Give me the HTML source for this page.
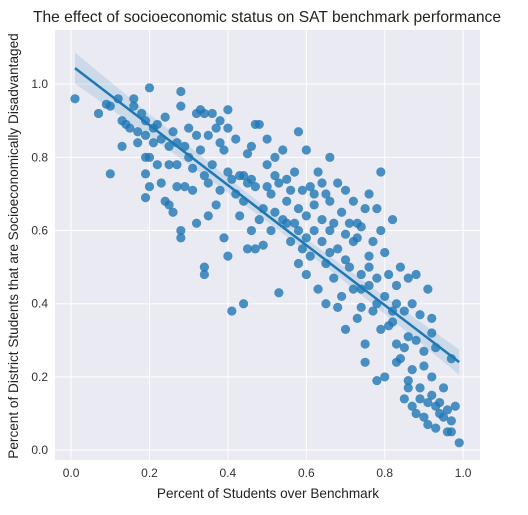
<!DOCTYPE html>
<html><head><meta charset="utf-8"><style>
body{margin:0;background:#fff;font-family:"Liberation Sans",sans-serif}
svg text{font-family:"Liberation Sans",sans-serif}
</style></head><body>
<svg id="chart" width="528" height="510" xmlns="http://www.w3.org/2000/svg">
<text x="267" y="22" text-anchor="middle" font-size="15.6" fill="#222">The effect of socioeconomic status on SAT benchmark performance</text>
<rect x="55" y="30" width="425" height="430" fill="#eaeaf2"/>
<g id="grid"></g>
<g id="ticks"></g>
<g id="band"></g>
<g id="pts"></g>
<g id="fit"></g>
<text x="268" y="498" text-anchor="middle" font-size="13.6" fill="#222">Percent of Students over Benchmark</text>
<text transform="translate(18,246) rotate(-90)" text-anchor="middle" font-size="13.6" fill="#222">Percent of District Students that are Socioeconomically Disadvantaged</text>
</svg>
<script>
const xTicks=[0,0.2,0.4,0.6,0.8,1.0];
const xTickLabels=["0.0","0.2","0.4","0.6","0.8","1.0"];
const yTicks=[0,0.2,0.4,0.6,0.8,1.0];
const yTickLabels=["0.0","0.2","0.4","0.6","0.8","1.0"];
const benchmarkPct=[0.01,0.07,0.09,0.10,0.12,0.16,0.20,0.28,0.28,0.10,0.13,0.13,0.14,0.15,0.16,0.17,0.17,0.18,0.19,0.19,0.19,0.19,0.19,0.20,0.20,0.21,0.21,0.22,0.22,0.23,0.23,0.24,0.24,0.25,0.25,0.25,0.26,0.26,0.27,0.27,0.27,0.28,0.28,0.29,0.29,0.30,0.30,0.31,0.31,0.32,0.32,0.32,0.33,0.33,0.34,0.34,0.34,0.34,0.35,0.35,0.35,0.36,0.36,0.37,0.37,0.38,0.38,0.38,0.39,0.39,0.40,0.40,0.40,0.41,0.41,0.42,0.42,0.43,0.43,0.44,0.44,0.44,0.45,0.45,0.46,0.46,0.47,0.47,0.47,0.48,0.48,0.49,0.49,0.50,0.50,0.50,0.51,0.51,0.52,0.52,0.53,0.53,0.54,0.54,0.55,0.55,0.56,0.56,0.57,0.57,0.58,0.58,0.58,0.59,0.59,0.60,0.60,0.60,0.60,0.61,0.61,0.62,0.62,0.63,0.63,0.64,0.64,0.65,0.65,0.65,0.66,0.66,0.66,0.67,0.67,0.68,0.68,0.69,0.69,0.70,0.70,0.70,0.71,0.71,0.72,0.72,0.72,0.73,0.73,0.74,0.74,0.74,0.75,0.75,0.75,0.76,0.76,0.76,0.77,0.77,0.78,0.78,0.78,0.79,0.79,0.80,0.80,0.80,0.81,0.81,0.82,0.82,0.83,0.83,0.84,0.84,0.85,0.85,0.85,0.86,0.86,0.87,0.87,0.87,0.88,0.88,0.89,0.89,0.90,0.90,0.90,0.91,0.91,0.92,0.92,0.93,0.93,0.93,0.94,0.95,0.96,0.97,0.97,0.98,0.99,0.40,0.45,0.55,0.62,0.68,0.64,0.73,0.78,0.74,0.82,0.79,0.83,0.86,0.88,0.91,0.92,0.95,0.46,0.52,0.58,0.66,0.70,0.76,0.83,0.94,0.96,0.97,0.92,0.89,0.86];
const disadvPct=[0.96,0.92,0.945,0.94,0.96,0.96,0.99,0.98,0.94,0.755,0.83,0.90,0.89,0.88,0.94,0.84,0.87,0.92,0.90,0.86,0.80,0.755,0.69,0.72,0.80,0.88,0.84,0.89,0.78,0.85,0.73,0.68,0.91,0.67,0.78,0.83,0.87,0.65,0.84,0.78,0.72,0.60,0.58,0.72,0.83,0.80,0.88,0.71,0.77,0.62,0.86,0.92,0.93,0.82,0.75,0.92,0.50,0.48,0.64,0.73,0.86,0.92,0.78,0.67,0.88,0.90,0.84,0.71,0.82,0.58,0.76,0.93,0.88,0.74,0.38,0.70,0.85,0.75,0.64,0.40,0.75,0.68,0.73,0.81,0.83,0.74,0.89,0.55,0.72,0.63,0.89,0.56,0.66,0.78,0.85,0.72,0.60,0.70,0.75,0.80,0.73,0.43,0.82,0.63,0.68,0.74,0.57,0.71,0.76,0.62,0.87,0.60,0.66,0.55,0.71,0.64,0.58,0.48,0.82,0.72,0.53,0.60,0.67,0.76,0.44,0.57,0.63,0.70,0.40,0.51,0.60,0.80,0.68,0.62,0.47,0.55,0.39,0.42,0.65,0.59,0.71,0.33,0.50,0.62,0.44,0.57,0.68,0.58,0.36,0.48,0.39,0.61,0.66,0.29,0.24,0.45,0.70,0.53,0.38,0.57,0.19,0.47,0.40,0.33,0.60,0.20,0.42,0.54,0.48,0.34,0.63,0.38,0.29,0.45,0.25,0.50,0.14,0.28,0.38,0.31,0.47,0.12,0.22,0.40,0.30,0.48,0.17,0.37,0.09,0.23,0.27,0.13,0.44,0.20,0.36,0.06,0.12,0.28,0.13,0.09,0.05,0.25,0.05,0.12,0.02,0.53,0.55,0.62,0.70,0.73,0.73,0.62,0.66,0.44,0.35,0.76,0.24,0.19,0.10,0.07,0.32,0.17,0.60,0.65,0.51,0.54,0.52,0.50,0.40,0.10,0.11,0.08,0.15,0.14,0.17];

const X0=55,X1=480,Y0=30,Y1=460;
const xmin=-0.041,xmax=1.043,ymin=-0.027,ymax=1.148;
const xs=v=>X0+(v-xmin)/(xmax-xmin)*(X1-X0);
const ys=v=>Y1-(v-ymin)/(ymax-ymin)*(Y1-Y0);
const NS="http://www.w3.org/2000/svg";
function mk(tag,attrs,parent){const e=document.createElementNS(NS,tag);for(const k in attrs)e.setAttribute(k,attrs[k]);document.getElementById(parent).appendChild(e);return e;}
xTicks.forEach((t,i)=>{
  const l=mk('line',{x1:xs(t),x2:xs(t),y1:Y0,y2:Y1,stroke:'#fff','stroke-width':1},'grid');
  
  
  const tx=mk('text',{x:xs(t),y:Y1+17,'text-anchor':'middle','font-size':12,fill:'#333'},'ticks');
  tx.textContent=xTickLabels[i];
  
  
});
yTicks.forEach((t,i)=>{
  const l=mk('line',{x1:X0,x2:X1,y1:ys(t),y2:ys(t),stroke:'#fff','stroke-width':1},'grid');
  
  
  const tx=mk('text',{x:X0-7,y:ys(t)+4,'text-anchor':'end','font-size':12,fill:'#333'},'ticks');
  tx.textContent=yTickLabels[i];
  
  
});
benchmarkPct.forEach((x,i)=>{
  const c=mk('circle',{cx:xs(x),cy:ys(disadvPct[i]),r:4.6,fill:'#1f77b4','fill-opacity':0.8},'pts');
  
  
});
const n=benchmarkPct.length;
let mx=0,my=0;for(let i=0;i<n;i++){mx+=benchmarkPct[i];my+=disadvPct[i];}mx/=n;my/=n;
let sxx=0,sxy=0;for(let i=0;i<n;i++){sxx+=(benchmarkPct[i]-mx)**2;sxy+=(benchmarkPct[i]-mx)*(disadvPct[i]-my);}
const b=sxy/sxx,a=my-b*mx;
let sse=0;for(let i=0;i<n;i++){sse+=(disadvPct[i]-a-b*benchmarkPct[i])**2;}
const s=Math.sqrt(sse/(n-2));
const lo=Math.min(...benchmarkPct),hi=Math.max(...benchmarkPct);
const up=[],dn=[];
for(let k=0;k<=40;k++){const x=lo+(hi-lo)*k/40;const se=1.97*s*Math.sqrt(1/n+(x-mx)**2/sxx);const y=a+b*x;up.push(xs(x)+','+ys(y+se));dn.unshift(xs(x)+','+ys(y-se));}
const band=mk('polygon',{points:up.concat(dn).join(' '),fill:'#1f77b4','fill-opacity':0.15},'band');


const fl=mk('line',{x1:xs(lo),y1:ys(a+b*lo),x2:xs(hi),y2:ys(a+b*hi),stroke:'#1f77b4','stroke-width':2.5},'fit');


</script>
</body></html>
